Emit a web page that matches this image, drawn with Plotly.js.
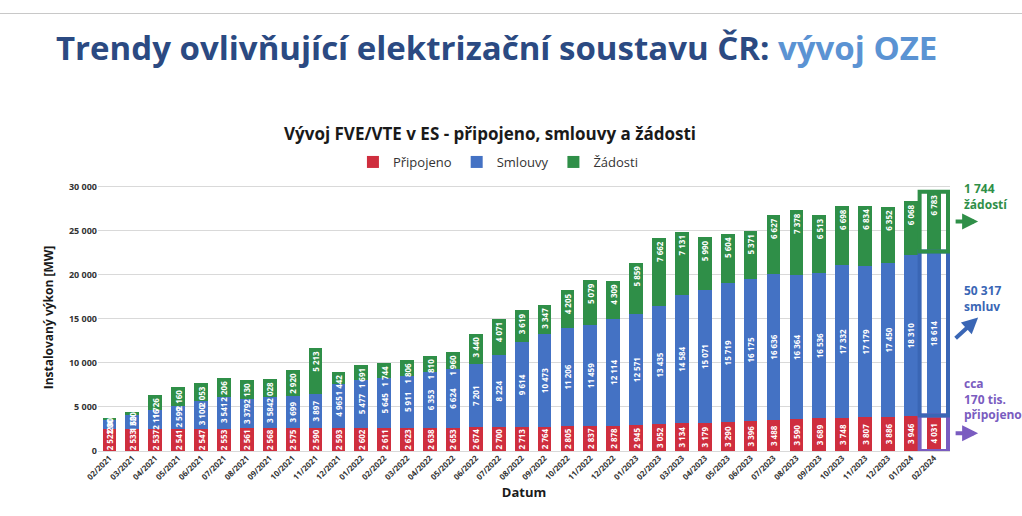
<!DOCTYPE html>
<html>
<head>
<meta charset="utf-8">
<script src="https://cdn.plot.ly/plotly-3.0.1.min.js"></script>
<style>
  html, body { margin: 0; padding: 0; background: #fff; }
  #wrap { position: relative; width: 1022px; height: 516px; }
  #topline { position: absolute; left: 0; top: 13px; width: 1022px; height: 1px; background: #c8c8c8; }
  #chart { position: absolute; left: 0; top: 0; width: 1022px; height: 516px; }
</style>
</head>
<body>
<div id="wrap">
  <div id="chart"></div>
  <div id="topline"></div>
</div>
<script>
// months (02/2021 .. 02/2024)
const months = [
  '02/2021', '03/2021', '04/2021', '05/2021', '06/2021', '07/2021', '08/2021', '09/2021', '10/2021', '11/2021', '12/2021',
  '01/2022', '02/2022', '03/2022', '04/2022', '05/2022', '06/2022', '07/2022', '08/2022', '09/2022', '10/2022', '11/2022', '12/2022',
  '01/2023', '02/2023', '03/2023', '04/2023', '05/2023', '06/2023', '07/2023', '08/2023', '09/2023', '10/2023', '11/2023', '12/2023',
  '01/2024', '02/2024'
];

// MW
const pripojeno = [
  2522, 2533, 2537, 2541, 2547, 2553, 2561, 2568, 2575, 2590, 2593,
  2602, 2611, 2623, 2638, 2653, 2674, 2700, 2713, 2764, 2805, 2837, 2878,
  2945, 3052, 3134, 3179, 3290, 3396, 3488, 3590, 3689, 3748, 3807, 3886,
  3946, 4031
];
const smlouvy = [
  1000, 1600, 2116, 2599, 3100, 3541, 3379, 3584, 3699, 3897, 4965,
  5477, 5645, 5911, 6353, 6624, 7201, 8224, 9614, 10473, 11206, 11459, 12114,
  12571, 13435, 14584, 15071, 15719, 16175, 16636, 16364, 16536, 17332, 17179, 17450,
  18310, 18614
];
const zadosti = [
  280, 320, 1726, 2160, 2053, 2206, 2130, 2028, 2920, 5213, 1442,
  1691, 1744, 1806, 1810, 1960, 3440, 4071, 3619, 3347, 4205, 5079, 4309,
  5859, 7662, 7131, 5990, 5604, 5371, 6627, 7378, 6513, 6698, 6834, 6352,
  6068, 6783
];

const seriesNames = ['Připojeno', 'Smlouvy', 'Žádosti'];
const seriesColors = ['#cf2e3e', '#4472c4', '#2f8f48'];
const boxColors = ['#7a5cc0', '#3a66b5', '#2f8f48'];
const calloutTexts = ['cca<br>170 tis.<br>připojeno', '50 317<br>smluv', '1 744<br>žádostí'];

const FONT = '"Open Sans", "DejaVu Sans", sans-serif';

const stacks = [pripojeno, smlouvy, zadosti];
const traces = stacks.map((vals, i) => ({
  type: 'bar',
  name: seriesNames[i],
  x: months,
  y: vals,
  marker: { color: seriesColors[i] },
  texttemplate: '%{y:,}',
  textposition: 'inside',
  insidetextanchor: i === 2 ? 'end' : 'middle',
  textangle: -90,
  constraintext: 'none',
  textfont: { family: FONT, size: 8, color: '#ffffff', weight: 'bold' },
  hovertemplate: '%{x}: %{y:,} MW<extra>' + seriesNames[i] + '</extra>',
}));

// last month callout boxes
const last = months.length - 1;
const lo = [0, pripojeno[last], pripojeno[last] + smlouvy[last]];
const hi = [pripojeno[last], pripojeno[last] + smlouvy[last], pripojeno[last] + smlouvy[last] + zadosti[last]];

const shapes = lo.map((y0, i) => ({
  type: 'rect', xref: 'x', yref: 'y', layer: 'above',
  x0: last - 0.62, x1: last + 0.62, y0, y1: hi[i],
  line: { color: boxColors[i], width: 4 },
}));

const annotations = [{
  xref: 'paper', yref: 'paper', x: 0.46, y: (451 - 133) / 267, yanchor: 'middle',
  text: '<b>Vývoj FVE/VTE v ES - připojeno, smlouvy a žádosti</b>',
  showarrow: false, font: { family: FONT, size: 17, color: '#1a1a1a' },
}];

const textPos = [0.195, 0.573, 0.955];
lo.forEach((y0, i) => {
  const mid = (y0 + hi[i]) / 2;
  annotations.push({
    xref: 'paper', yref: 'y', x: 1.033, y: i === 1 ? mid + 1800 : mid,
    ax: -24, ay: i === 1 ? 22 : 0, axref: 'pixel', ayref: 'pixel',
    showarrow: true, text: '', arrowhead: 2, arrowsize: 0.8, arrowwidth: 4,
    arrowcolor: boxColors[i], standoff: 0,
  });
  annotations.push({
    xref: 'paper', yref: 'paper', x: 1.014, y: textPos[i],
    xanchor: 'left', yanchor: 'middle', align: 'left', showarrow: false,
    text: '<b>' + calloutTexts[i] + '</b>',
    font: { family: FONT, size: 12, color: boxColors[i] },
  });
});

const layout = {
  width: 1022,
  height: 516,
  barmode: 'stack',
  bargap: 0.4,
  separators: ', ',
  paper_bgcolor: '#ffffff',
  plot_bgcolor: '#ffffff',
  font: { family: FONT, color: '#333' },
  margin: { l: 98, r: 72, t: 184, b: 65 },
  title: {
    text: '<b><span style="color:#2b4a82">Trendy ovlivňující elektrizační soustavu ČR: </span><span style="color:#5b93d3">vývoj OZE</span></b>',
    font: { family: FONT, size: 33 },
    xref: 'container', yref: 'container', x: 56 / 1022, xanchor: 'left', y: 1 - 48 / 516, yanchor: 'middle',
  },
  showlegend: true,
  legend: {
    orientation: 'h', x: 0.47, xanchor: 'center', y: (451 - 162) / 267, yanchor: 'middle',
    font: { family: FONT, size: 13, color: '#333' }, itemwidth: 30, traceorder: 'normal',
  },
  xaxis: {
    type: 'category',
    tickangle: -45,
    tickfont: { family: FONT, size: 8, color: '#333', weight: 'bold' },
    showgrid: false,
    showline: false,
    ticks: '',
    title: { text: '<b>Datum</b>', font: { family: FONT, size: 13, color: '#1a1a1a' }, standoff: 6 },
  },
  yaxis: {
    range: [0, 30300],
    dtick: 5000,
    tickformat: ',d',
    tickfont: { family: FONT, size: 9, color: '#333', weight: 'bold' },
    gridcolor: '#d9d9d9',
    zeroline: true,
    zerolinecolor: '#d9d9d9',
    showline: false,
    title: { text: '<b>Instalovaný výkon [MW]</b>', font: { family: FONT, size: 12, color: '#1a1a1a' }, standoff: 12 },
  },
  shapes,
  annotations,
};

Plotly.newPlot('chart', traces, layout, { displayModeBar: false, responsive: false });
</script>
</body>
</html>
